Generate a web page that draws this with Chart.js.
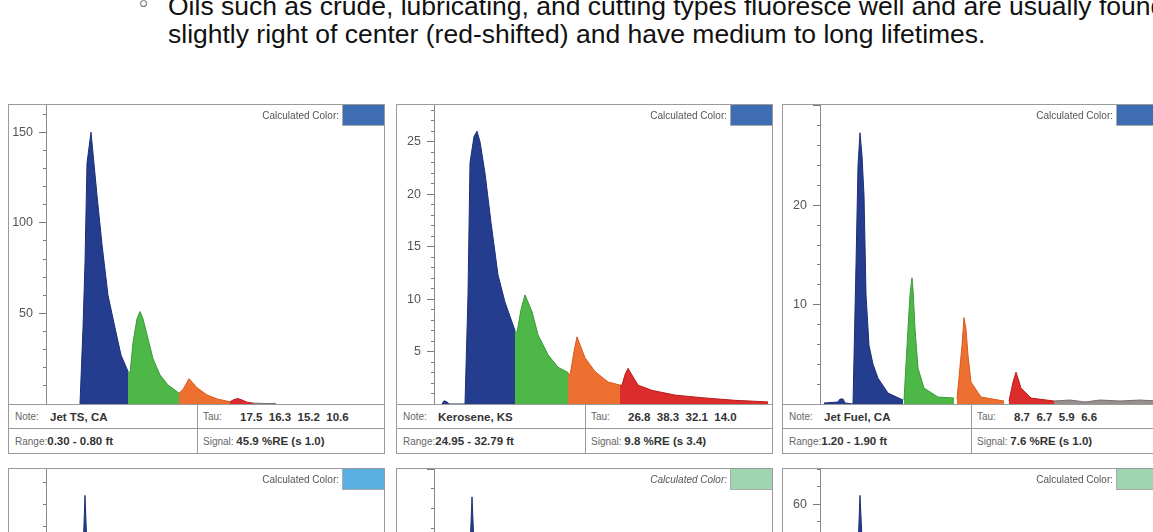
<!DOCTYPE html>
<html lang="en">
<head>
<meta charset="UTF-8">
<title>Oil fluorescence waveforms</title>
<script src="https://cdn.jsdelivr.net/npm/chart.js"></script>
<style>
  body { margin:0; width:1153px; height:532px; overflow:hidden; background:#fff; position:relative;
         font-family:"Liberation Sans", Arial, sans-serif; }
  .txt { position:absolute; left:168px; font-size:26.5px; line-height:28px; color:#111; white-space:nowrap; }
  .bullet { position:absolute; left:139px; top:-6px; font-size:15px; color:#333; }
  .panel { position:absolute; width:377px; height:350px; border:1px solid #9a9a9a; box-sizing:border-box;
           background:#fff; overflow:hidden; }
  .panel canvas { position:absolute; left:0; top:0; }
  .calc { position:absolute; right:0; top:0; height:21px; display:flex; align-items:center;
          font-size:10px; color:#555; }
  .calc .box { width:41px; height:20px; margin-left:3px; border-left:1px solid #aaa; border-bottom:1px solid #aaa; }
  .info { position:absolute; left:0; top:299px; width:375px; border-top:1px solid #9a9a9a; }
  .row { display:flex; }
  .row.r1 { height:23px; border-bottom:1px solid #9a9a9a; }
  .row.r2 { height:24px; }
  .cell { display:flex; align-items:center; box-sizing:border-box; white-space:nowrap; }
  .cell.left { width:189px; border-right:1px solid #9a9a9a; padding-left:6px; }
  .cell.right { flex:1; padding-left:5px; }
  .lab { font-size:10px; color:#666; }
  .val { font-size:11.5px; font-weight:bold; color:#333; }
</style>
</head>
<body>
<div class="bullet">○</div>
<div class="txt" style="top:-8px">Oils such as crude, lubricating, and cutting types fluoresce well and are usually found</div>
<div class="txt" style="top:20px">slightly right of center (red-shifted) and have medium to long lifetimes.</div>
<script>
// waveform segments, x = time bin from the y axis, y = amplitude
const jetTsBlue   = [[34,0],[37,42],[39,78],[41,133],[45,150],[51,115],[56,88],[62,60],[69,42],[75,27],[82,18]];
const jetTsGreen  = [[82,18],[84,17],[87,34],[91,47],[94,51],[97,47],[102,36],[107,25],[114,16],[122,10.5],[133,6]];
const jetTsOrange = [[133,6],[137,8],[143,14],[147,11.5],[151,9],[161,5],[171,2.8],[184,1.2]];
const jetTsRed    = [[184,1.2],[188,2.5],[192,3],[197,2],[201,1],[207,0.5]];
const jetTsTail   = [[207,0.5],[218,0.3],[230,0.3]];

const keroBlue   = [[8,0],[10,0.3],[13,0.2],[15,0],[31,0],[34,10.4],[36,23],[40,25.5],[43,26],[46,25],[51,22],[57,17.3],[64,12.3],[71,9.7],[81,7]];
const keroGreen  = [[81,7],[83,6.8],[87,9],[91,10.4],[98,8.8],[104,6.6],[114,4.7],[124,3.5],[134,3]];
const keroOrange = [[134,3],[136,2.7],[140,5],[143,6.4],[151,4.4],[161,3.1],[174,2.1],[186,1.8]];
const keroRed    = [[186,1.8],[188,1.8],[191,2.8],[194,3.4],[204,1.8],[218,1.3],[241,0.85],[268,0.6],[301,0.35],[334,0.2]];

const jetFuelBlue   = [[4,0.1],[18,0.2],[20,0.5],[23,0.5],[25,0.1],[33,0],[36,14],[38,24],[40,27.3],[42,25],[44,21],[46,11],[49,5.9],[53,4],[58,2.6],[68,1.1],[83,0.4]];
const jetFuelGreen  = [[84,0.4],[88,7.6],[90,11],[92,12.7],[93,11.5],[95,7.6],[98,3.6],[104,1.6],[118,0.7],[134,0.6]];
const jetFuelOrange = [[137,0.5],[142,5.9],[144,8.7],[146,7.5],[148,4.9],[151,2.2],[161,0.7],[184,0.3]];
const jetFuelRed    = [[189,0.3],[193,2.2],[196,3.2],[198,2.6],[201,1.6],[211,0.6],[234,0.3]];
const jetFuelTail   = [[234,0.3],[250,0.4],[265,0.2],[280,0.4],[300,0.3],[320,0.4],[338,0.3]];

// second row, only the top of the first peak is visible
const row2aBlue = [[30,0],[36,10],[37,49],[39,62],[41,50],[43,25],[50,8],[60,3]];
const row2bBlue = [[30,0],[35,2],[36,11],[38,13.6],[40,11.2],[42,6],[50,2],[60,1]];
const row2cBlue = [[30,0],[37,10],[38,50],[40,62],[42,52],[44,28],[50,10],[60,4]];

// axes: max, minor step, labelled step
const yMax      = [165, 28.5, 30.1, 68, 15, 68];
const yStep     = [10, 1, 2, 5, 1, 4];
const yLabelEvery = [50, 5, 10, 25, 5, 20];

const notes   = ['Jet TS, CA', 'Kerosene, KS', 'Jet Fuel, CA'];
const taus    = ['17.5  16.3  15.2  10.6', '26.8  38.3  32.1  14.0', '8.7  6.7  5.9  6.6'];
const ranges  = ['0.30 - 0.80 ft', '24.95 - 32.79 ft', '1.20 - 1.90 ft'];
const signals = ['45.9 %RE (s 1.0)', '9.8 %RE (s 3.4)', '7.6 %RE (s 1.0)'];
const calcColors = ['#3f6db4', '#3f6db4', '#3f6db4', '#5bb0e3', '#a0d5b1', '#a0d5b1'];

const fills = {
  blue:   ['#243d8f', '#1c2f75'],
  green:  ['#4db748', '#3a9a36'],
  orange: ['#ee7030', '#d85a1e'],
  red:    ['#dd2c2c', '#b81e1e'],
  tail:   ['#9a8f8f', '#7a6d6d']
};

function seg(data, kind) {
  return {
    data: data,
    backgroundColor: fills[kind][0],
    borderColor: fills[kind][1],
    borderWidth: 1,
    fill: 'origin',
    pointRadius: 0,
    tension: 0
  };
}

const panelSeries = [
  [seg(jetTsBlue,'blue'), seg(jetTsGreen,'green'), seg(jetTsOrange,'orange'), seg(jetTsRed,'red'), seg(jetTsTail,'tail')],
  [seg(keroBlue,'blue'), seg(keroGreen,'green'), seg(keroOrange,'orange'), seg(keroRed,'red')],
  [seg(jetFuelBlue,'blue'), seg(jetFuelGreen,'green'), seg(jetFuelOrange,'orange'), seg(jetFuelRed,'red'), seg(jetFuelTail,'tail')],
  [seg(row2aBlue,'blue')],
  [seg(row2bBlue,'blue')],
  [seg(row2cBlue,'blue')]
];

const lefts = [8, 396, 782];
const tops = [104, 468];

function addPanel(i) {
  const panel = document.createElement('div');
  panel.className = 'panel';
  panel.style.left = lefts[i % 3] + 'px';
  panel.style.top = tops[Math.floor(i / 3)] + 'px';
  document.body.appendChild(panel);

  const canvas = document.createElement('canvas');
  canvas.width = 375;
  canvas.height = 299;
  panel.appendChild(canvas);

  const calc = document.createElement('div');
  calc.className = 'calc';
  calc.innerHTML = '<span' + (i === 4 ? ' style="font-style:italic"' : '') + '>Calculated Color:</span>' +
    '<span class="box" style="background:' + calcColors[i] + '"></span>';
  panel.appendChild(calc);

  if (i < 3) {
    const info = document.createElement('div');
    info.className = 'info';
    info.innerHTML =
      '<div class="row r1"><div class="cell left"><span class="lab" style="width:35px;display:inline-block">Note:</span><span class="val">' + notes[i] + '</span></div>' +
      '<div class="cell right"><span class="lab" style="width:37px;display:inline-block">Tau:</span><span class="val" style="white-space:pre">' + taus[i] + '</span></div></div>' +
      '<div class="row r2"><div class="cell left"><span class="lab">Range:</span><span class="val">' + ranges[i] + '</span></div>' +
      '<div class="cell right"><span class="lab">Signal:&nbsp;</span><span class="val">' + signals[i] + '</span></div></div>';
    panel.appendChild(info);
  }

  const max = yMax[i], step = yStep[i], every = yLabelEvery[i];
  const isMajor = v => Math.abs(v / every - Math.round(v / every)) < 1e-6;
  new Chart(canvas, {
    type: 'line',
    data: { datasets: panelSeries[i] },
    options: {
      responsive: false,
      animation: false,
      layout: { padding: 0 },
      plugins: { legend: { display: false }, tooltip: { enabled: false } },
      scales: {
        x: { type: 'linear', min: 0, max: 338, display: false },
        y: {
          min: 0,
          max: max,
          afterFit: s => { s.width = 37; s.paddingTop = 0; s.paddingBottom = 0; },
          border: { color: '#8a8a8a', width: 1 },
          grid: {
            drawOnChartArea: false,
            tickLength: 7,
            tickColor: '#7a7a7a',
            tickBorderDash: c => (isMajor(c.tick.value) ? [] : [0, 4, 3])
          },
          ticks: {
            stepSize: step,
            maxTicksLimit: 200,
            autoSkip: false,
            includeBounds: false,
            padding: 6,
            color: '#555',
            font: { family: 'Liberation Sans', size: 12.5 },
            callback: v => (v !== 0 && isMajor(v) && v <= max - step / 2 ? String(v) : '')
          }
        }
      }
    }
  });
}

for (let i = 0; i < 6; i++) addPanel(i);
</script>
</body>
</html>
